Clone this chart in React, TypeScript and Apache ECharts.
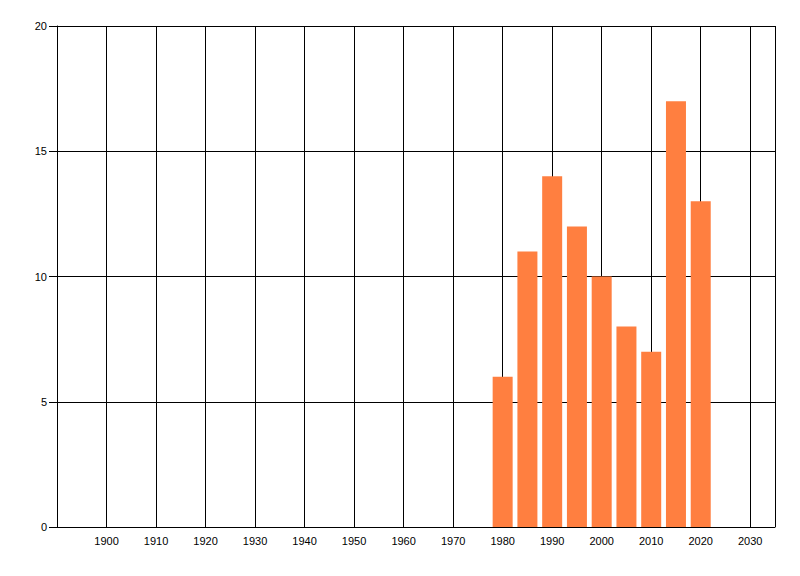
import React, { useEffect, useRef } from "react";
import * as echarts from "echarts";

const years = [1980, 1985, 1990, 1995, 2000, 2005, 2010, 2015, 2020];
const counts = [6, 11, 14, 12, 10, 8, 7, 17, 13];
const xTickLabels = ["1900", "1910", "1920", "1930", "1940", "1950", "1960", "1970", "1980", "1990", "2000", "2010", "2020", "2030"];
const yTickLabels = ["0", "5", "10", "15", "20"];

export default function App() {
  const ref = useRef<HTMLDivElement>(null);
  useEffect(() => {
    if (!ref.current) return;
    const chart = echarts.init(ref.current, undefined, { renderer: "svg" });
    const font = "'Liberation Sans', Arial, sans-serif";
    chart.setOption({
      animation: false,
      backgroundColor: "#ffffff",
      grid: { left: 57, right: 25, top: 26, bottom: 49, containLabel: false },
      xAxis: {
        type: "value",
        min: 1890,
        max: 2035,
        interval: 10,
        axisLine: { show: true, lineStyle: { color: "#000", width: 1 } },
        axisTick: { show: false },
        axisLabel: {
          color: "#000",
          fontFamily: font,
          fontSize: 11,
          margin: 8,
          showMinLabel: false,
          showMaxLabel: false,
          formatter: (v: number) => (xTickLabels.includes(String(v)) ? String(v) : ""),
        },
        splitLine: { show: true, lineStyle: { color: "#000", width: 1 } },
      },
      yAxis: {
        type: "value",
        min: 0,
        max: 20,
        interval: 5,
        axisLine: { show: true, lineStyle: { color: "#000", width: 1 } },
        axisTick: { show: true, length: 8, lineStyle: { color: "#000" } },
        axisLabel: {
          color: "#000",
          fontFamily: font,
          fontSize: 11,
          margin: 10,
          formatter: (v: number) => (yTickLabels.includes(String(v)) ? String(v) : ""),
        },
        splitLine: { show: true, lineStyle: { color: "#000", width: 1 } },
      },
      series: [
        {
          type: "bar",
          data: years.map((y, i) => [y, counts[i]]),
          barWidth: 20,
          itemStyle: { color: "#FF7F40" },
        },
      ],
    });
    return () => chart.dispose();
  }, []);
  return (
    <div
      ref={ref}
      style={{ position: "fixed", left: 0, top: 0, width: 800, height: 576, background: "#fff" }}
    />
  );
}
